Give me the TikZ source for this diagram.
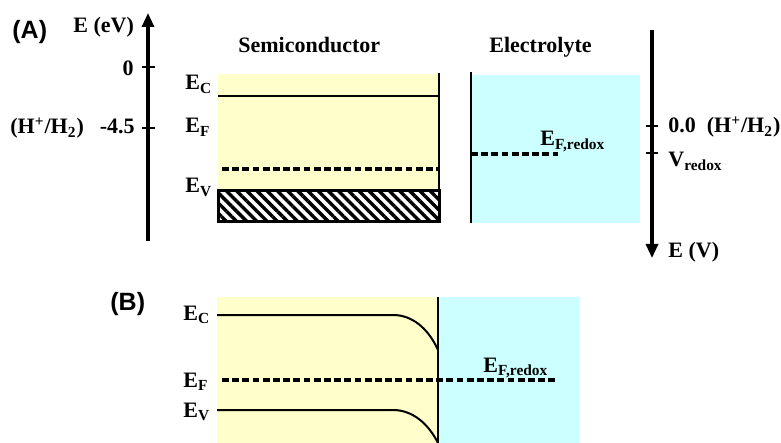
\documentclass[tikz,border=0pt]{standalone}
\usepackage{fontspec}
\setmainfont{Liberation Serif}
\newfontfamily\panelfont{Liberation Sans}
\usetikzlibrary{arrows.meta,patterns.meta}
\definecolor{Ink}{HTML}{000000}
\definecolor{SemiFill}{HTML}{FFFFCC}
\definecolor{ElecFill}{HTML}{CCFFFF}

\begin{document}
\begin{tikzpicture}[x=0.5pt,y=-0.5pt,
  lbl/.style={anchor=base west,inner sep=0pt,font=\fontsize{11}{13}\selectfont\bfseries,text=Ink},
  lblr/.style={lbl,anchor=base east},
  panel/.style={anchor=base west,inner sep=0pt,font=\panelfont\fontsize{12.5}{14}\selectfont\bfseries},
  axis/.style={Ink,line width=1.6pt,-{Triangle[width=6pt,length=7pt]}},
  tickmark/.style={Ink,line width=1pt},
  band/.style={Ink,line width=1pt},
  wall/.style={Ink,line width=1.1pt},
  fermi/.style={Ink,line width=1.7pt,dash pattern=on 3.4pt off 1.7pt}]
\useasboundingbox (0,0) rectangle (781,443);
\node[panel] (pA) at (12,39) {(A)};
\node[panel] (pB) at (110,310) {(B)};
\fill[SemiFill] (218,74) rectangle (439,191);
\fill[ElecFill] (471,75) rectangle (640,223);
\fill[SemiFill] (217,297) rectangle (438,443);
\fill[ElecFill] (438,297) rectangle (580,443);
\coordinate (eaxbot) at (148,241);
\coordinate (eaxtop) at (148,13);
\draw[axis] (eaxbot) -- (eaxtop);
\draw[tickmark] (142,67) -- (155,67);
\draw[tickmark] (142,128) -- (155,128);
\node[lbl] (eev) at (73,33) {E (eV)};
\node[lblr] (zero) at (134,76) {0};
\node[lblr] (vac) at (135,134) {-4.5};
\node[lbl] (hh) at (10,134) {(H\textsuperscript{+}/H\textsubscript{2})};
\node[lbl] (semi) at (238,53) {Semiconductor};
\node[lbl] (elec) at (489,53) {Electrolyte};
\node[lbl] (ec) at (185,90) {E\textsubscript{C}};
\node[lbl] (ef) at (185,133) {E\textsubscript{F}};
\node[lbl] (ev) at (185,193) {E\textsubscript{V}};
\draw[band] (218,96) -- (439,96);
\draw[fermi] (222,169) -- (439,169);
\draw[Ink,line width=1.5pt,pattern={Lines[angle=-45,distance=3.6pt,line width=1.7pt]}] (218,191) rectangle (439,222);
\draw[wall] (439,73) -- (439,198);
\draw[wall] (471,72) -- (471,223);
\draw[fermi] (471,154) -- (558,154);
\node[lbl] (efr) at (540,146) {E\textsubscript{F,redox}};
\coordinate (vaxtop) at (652,30);
\coordinate (vaxbot) at (652,258);
\draw[axis] (vaxtop) -- (vaxbot);
\draw[tickmark] (646,126) -- (658,126);
\draw[tickmark] (646,153) -- (658,153);
\node[lbl] (vzero) at (668,133) {0.0~~(H\textsuperscript{+}/H\textsubscript{2})};
\node[lbl] (vred) at (668,167) {V\textsubscript{redox}};
\node[lbl] (ev2) at (668,257) {E (V)};
\draw[band] (217,315) -- (393,315) .. controls (412,315) and (428,328) .. (438,350);
\draw[band] (217,410) -- (393,410) .. controls (412,410) and (428,423) .. (438,443);
\draw[wall] (438,297) -- (438,443);
\draw[fermi] (222,380) -- (557,380);
\node[lbl] (bec) at (183,320) {E\textsubscript{C}};
\node[lbl] (bef) at (183,387) {E\textsubscript{F}};
\node[lbl] (bev) at (183,417) {E\textsubscript{V}};
\node[lbl] (befr) at (483,372) {E\textsubscript{F,redox}};
\end{tikzpicture}
\end{document}
